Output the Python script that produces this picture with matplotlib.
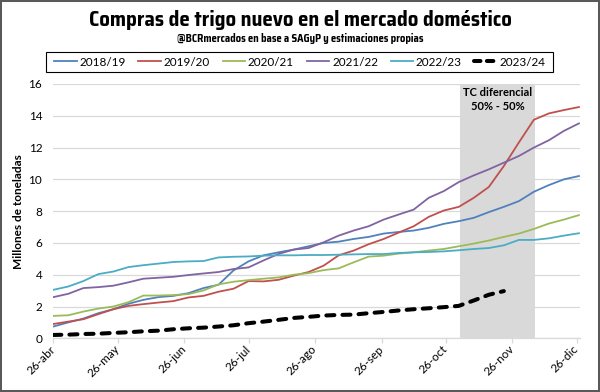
import matplotlib
matplotlib.use("Agg")
import matplotlib.pyplot as plt
import matplotlib.font_manager as fm
from matplotlib.lines import Line2D
from matplotlib.patches import Rectangle
import pandas as pd

plt.rcParams['font.family'] = ['Lato', 'DejaVu Sans']

# ---- data ----
start_date = "2023-04-26"
n_weeks = 36
weeks = pd.date_range(start_date, periods=n_weeks, freq="7D")

s2018 = [0.74, 1.00, 1.24, 1.58, 1.83, 2.17, 2.42, 2.59, 2.67, 2.84, 3.16, 3.37,
         4.27, 4.84, 5.22, 5.41, 5.58, 5.79, 6.00, 6.08, 6.25, 6.38, 6.59, 6.69,
         6.78, 6.95, 7.20, 7.37, 7.58, 7.94, 8.27, 8.63, 9.22, 9.64, 10.00, 10.21]
s2019 = [0.90, 1.05, 1.20, 1.52, 1.83, 2.04, 2.15, 2.25, 2.34, 2.57, 2.67, 2.93,
         3.12, 3.60, 3.58, 3.68, 3.94, 4.17, 4.57, 5.22, 5.52, 5.92, 6.25, 6.65,
         7.05, 7.64, 8.04, 8.27, 8.84, 9.52, 10.84, 12.32, 13.75, 14.15, 14.36, 14.55]
s2020 = [1.41, 1.45, 1.68, 1.87, 2.00, 2.27, 2.69, 2.69, 2.72, 2.78, 3.01, 3.39,
         3.56, 3.66, 3.75, 3.83, 4.00, 4.10, 4.29, 4.40, 4.78, 5.14, 5.20, 5.33,
         5.41, 5.52, 5.62, 5.79, 5.96, 6.15, 6.38, 6.59, 6.88, 7.22, 7.47, 7.75]
s2021 = [2.59, 2.80, 3.16, 3.22, 3.31, 3.52, 3.75, 3.81, 3.87, 3.98, 4.08, 4.17,
         4.36, 4.46, 4.90, 5.31, 5.58, 5.68, 6.04, 6.46, 6.78, 7.05, 7.47, 7.79,
         8.10, 8.84, 9.26, 9.83, 10.25, 10.63, 11.05, 11.47, 12.00, 12.46, 13.05, 13.52]
s2022 = [3.05, 3.26, 3.60, 4.04, 4.20, 4.48, 4.60, 4.70, 4.80, 4.84, 4.86, 5.09,
         5.13, 5.15, 5.20, 5.22, 5.22, 5.24, 5.24, 5.26, 5.28, 5.30, 5.30, 5.37,
         5.41, 5.43, 5.47, 5.54, 5.62, 5.68, 5.85, 6.19, 6.19, 6.29, 6.46, 6.61]
s2023 = [0.21, 0.23, 0.27, 0.29, 0.34, 0.38, 0.44, 0.48, 0.57, 0.63, 0.67, 0.74,
         0.82, 0.95, 1.05, 1.16, 1.28, 1.35, 1.43, 1.47, 1.49, 1.58, 1.66, 1.75,
         1.83, 1.89, 1.96, 2.04, 2.38, 2.74, 2.97]

series_labels = ["2018/19", "2019/20", "2020/21", "2021/22", "2022/23", "2023/24"]
series_colors = ["#4F81BD", "#C0504D", "#9BBB59", "#8064A2", "#4BACC6", "#000000"]

tick_dates = ["2023-04-26", "2023-05-26", "2023-06-26", "2023-07-26", "2023-08-26",
              "2023-09-26", "2023-10-26", "2023-11-26", "2023-12-26"]
tick_labels = ["26-abr", "26-may", "26-jun", "26-jul", "26-ago",
               "26-sep", "26-oct", "26-nov", "26-dic"]

band_start = "2023-11-01 14:00"
band_end = "2023-12-06 14:00"
band_text = "TC diferencial\n50% - 50%"

title = "Compras de trigo nuevo en el mercado doméstico"
subtitle = "@BCRmercados en base a SAGyP y estimaciones propias"
ylabel = "Millones de toneladas"

# ---- figure ----
fig = plt.figure(figsize=(6.0, 3.92), dpi=100)
renderer = fig.canvas.get_renderer()


def weight_num(w):
    if isinstance(w, (int, float)):
        return w
    return fm.weight_dict.get(str(w).lower(), 400)


# condensed families that really have a bold face
cands = []
for f in fm.fontManager.ttflist:
    nm = f.name
    condensed = ("Narrow" in nm or "Condensed" in nm or "Cond" in nm
                 or f.stretch in ("condensed", "semi-condensed", "extra-condensed"))
    if condensed and 600 <= weight_num(f.weight) <= 800 and "Light" not in nm \
            and "Thin" not in nm and nm not in cands:
        cands.append(nm)
cands += ["Roboto"]

TARGET_W = 424.0
best, best_w, best_score = "Roboto", None, 1e9
for nm in cands:
    t = fig.text(0, 0, title, fontsize=15, fontweight="bold", family=[nm, "DejaVu Sans"])
    w = t.get_window_extent(renderer).width
    t.remove()
    score = abs(w - TARGET_W)
    if score < best_score:
        best, best_w, best_score = nm, w, score
title_family = [best, "DejaVu Sans"]
title_size = 15.0 * TARGET_W / best_w

t = fig.text(0, 0, subtitle, fontsize=7, fontweight="bold", family=title_family)
sw = t.get_window_extent(renderer).width
t.remove()
sub_size = 7.0 * 245.0 / sw

ax = fig.add_axes([53.3/600, 1-338.3/392, (580-53.3)/600, (338.3-84.0)/392])

ax.axvspan(pd.Timestamp(band_start), pd.Timestamp(band_end), color="#D9D9D9", lw=0, zorder=0)

all_series = [s2018, s2019, s2020, s2021, s2022]
for vals, lab, col in zip(all_series, series_labels[:5], series_colors[:5]):
    ax.plot(weeks[:len(vals)], vals, color=col, lw=1.3, label=lab, zorder=3)
ax.plot(weeks[:len(s2023)], s2023, color=series_colors[5], lw=2.9, dashes=(2.0, 2.0),
        dash_capstyle="round", label=series_labels[5], zorder=4)

ax.set_ylim(0, 16)
ax.set_yticks(range(0, 17, 2))
ax.set_xlim(pd.Timestamp(start_date), pd.Timestamp("2023-12-27 12:00"))
ax.set_xticks([pd.Timestamp(d) for d in tick_dates])
ax.set_xticklabels(tick_labels, rotation=45, ha="right", va="center", rotation_mode="anchor")

ax.grid(axis="y", color="#D9D9D9", lw=0.9, zorder=1)
ax.set_axisbelow(True)
for sp in ["top", "right", "left"]:
    ax.spines[sp].set_visible(False)
ax.spines["bottom"].set_color("#D9D9D9")
ax.spines["bottom"].set_linewidth(0.9)
ax.tick_params(axis="y", length=0, pad=8, labelsize=8.5, labelcolor="#000000")
ax.tick_params(axis="x", length=3.5, width=0.9, color="#D9D9D9", pad=3, labelsize=8.5)
ax.set_ylabel(ylabel, fontsize=8.5, fontweight="bold", labelpad=3)

ax.text(pd.Timestamp("2023-11-19 02:00"), 15.8, band_text, ha="center", va="top",
        fontsize=8, fontweight="bold", linespacing=1.3, zorder=5)

fig.text(0.5, 1-20/392, title, ha="center", va="center", fontsize=title_size,
         fontweight="bold", family=title_family)
fig.text(0.5, 1-39/392, subtitle, ha="center", va="center", fontsize=sub_size,
         fontweight="bold", family=title_family)

handles = [Line2D([], [], color=c, lw=1.3) for c in series_colors[:5]]
handles.append(Line2D([], [], color="#000000", lw=2.9, dashes=(1.6, 1.6),
                      dash_capstyle="round"))
leg = fig.legend(handles, series_labels, loc="center", bbox_to_anchor=(0.5, 1-62/392),
                 ncol=6, fontsize=8.5, frameon=False, handlelength=1.9,
                 handletextpad=0.25, columnspacing=1.06, borderpad=0.3, borderaxespad=0)
fig.patches.append(Rectangle((46/600, 1-72/392), (553-46)/600, 20/392,
                             transform=fig.transFigure, fill=False,
                             edgecolor="#000000", lw=0.8, zorder=5))

fig.patches.append(Rectangle((0, 0), 1, 1, transform=fig.transFigure, fill=False,
                             edgecolor="#595959", lw=2.9, zorder=10))

fig.savefig("out.png", dpi=100)
